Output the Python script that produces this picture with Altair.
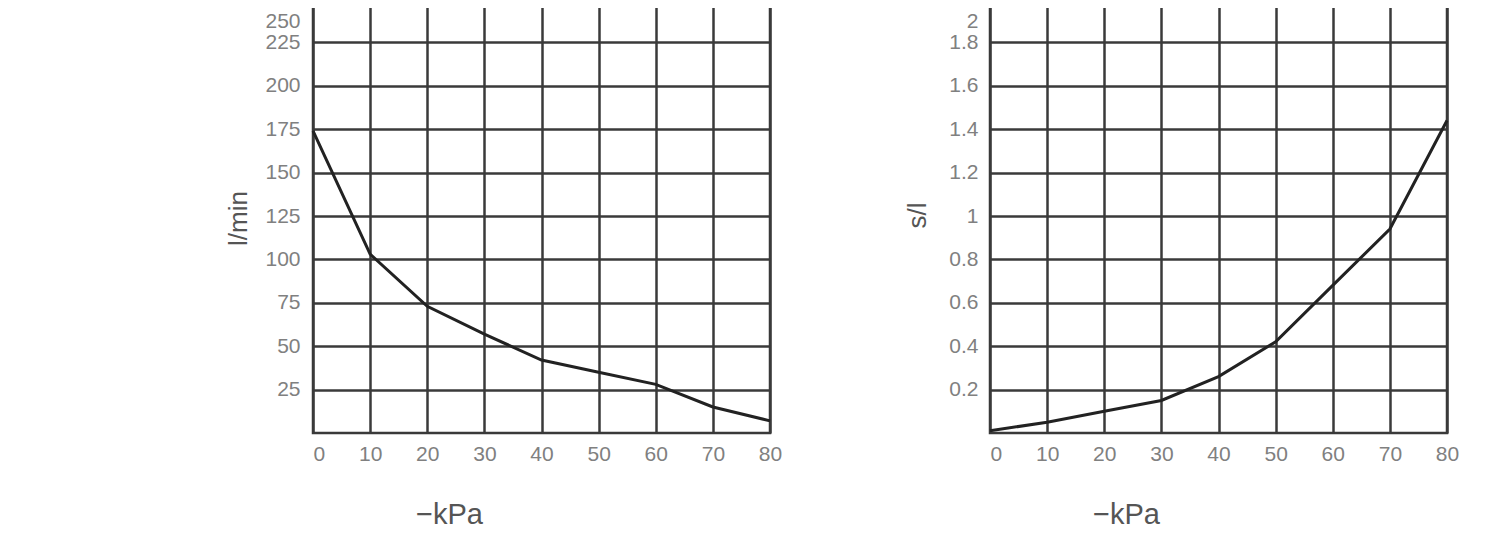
import altair as alt
import pandas as pd

# ---- data ----
kpa = [0, 10, 20, 30, 40, 50, 60, 70, 80]
flow_lpm = [174, 103, 73, 57, 42, 35, 28, 15, 7]
time_spl = [0.01, 0.05, 0.10, 0.15, 0.26, 0.42, 0.68, 0.94, 1.44]

x_ticks = [0, 10, 20, 30, 40, 50, 60, 70, 80]
left_y_ticks = [25, 50, 75, 100, 125, 150, 175, 200, 225, 250]
right_y_ticks = [0.2, 0.4, 0.6, 0.8, 1.0, 1.2, 1.4, 1.6, 1.8, 2.0]

df = pd.DataFrame({"kpa": kpa, "flow": flow_lpm, "spl": time_spl})

W, H = 457, 434
GRID = "#3a3a3a"
FONT = "Liberation Sans"

first_left = {"condition": {"test": "datum.value === 0", "value": "left"}, "value": "center"}


def top_down(v):
    return {"condition": {"test": f"datum.value === {v}", "value": 22}, "value": 0}


def x_axis():
    return alt.Axis(
        values=x_ticks, title="\u2212kPa", labelPadding=10, labelAlign=first_left,
        titleX=136, titleY=90, titleBaseline="alphabetic", titleAlign="center",
        titleAnchor="start", titleFontSize=29,
    )


left = alt.Chart(df).mark_line(color="#222222", strokeWidth=3).encode(
    x=alt.X("kpa:Q", scale=alt.Scale(domain=[0, 80], nice=False), axis=x_axis()),
    y=alt.Y("flow:Q", scale=alt.Scale(domain=[0, 250], nice=False),
            axis=alt.Axis(values=left_y_ticks, title="l/min", labelPadding=13,
                          labelOffset=top_down(250),
                          titleX=-75, titleY=219, titleAlign="center",
                          titleBaseline="middle", titleAngle=270)),
).properties(width=W, height=H)

right = alt.Chart(df).mark_line(color="#222222", strokeWidth=3).encode(
    x=alt.X("kpa:Q", scale=alt.Scale(domain=[0, 80], nice=False), axis=x_axis()),
    y=alt.Y("spl:Q", scale=alt.Scale(domain=[0, 2], nice=False),
            axis=alt.Axis(values=right_y_ticks, title="s/l", labelPadding=12, format="~g",
                          labelOffset=top_down(2),
                          titleX=-73, titleY=216, titleAlign="center",
                          titleBaseline="middle", titleAngle=270)),
).properties(width=W, height=H)

chart = alt.hconcat(left, right, spacing=220, bounds="flush").properties(
    padding={"left": 215, "top": -11, "right": 5, "bottom": 5}
).configure_view(
    stroke=GRID, strokeWidth=2.5
).configure_axis(
    grid=True, gridColor=GRID, gridWidth=2.5, gridOpacity=1,
    domain=False, ticks=False, tickSize=0,
    labelFont=FONT, labelFontSize=21, labelColor="#808080",
    titleFont=FONT, titleFontSize=26, titleColor="#555555", titleFontWeight="normal",
)

chart.save("out.html", embed_options={"renderer": "svg", "actions": False})
